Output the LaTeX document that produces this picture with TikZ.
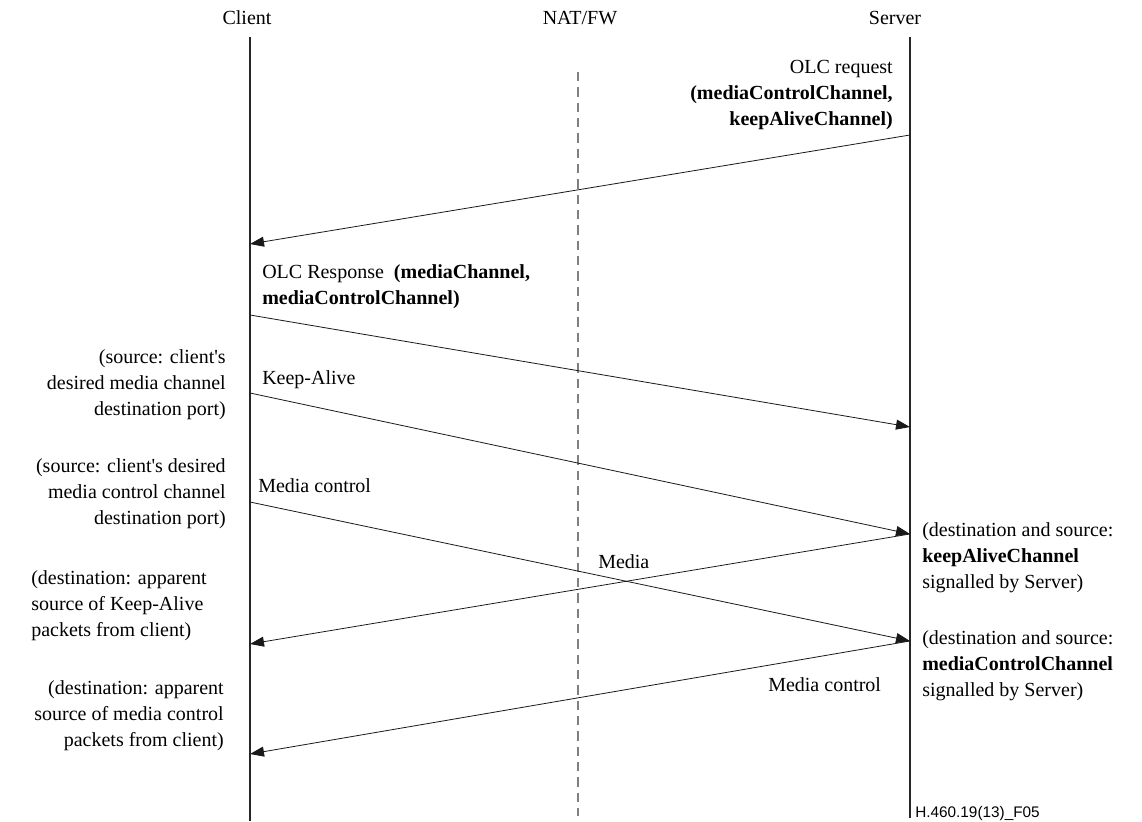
\documentclass[tikz,border=0pt]{standalone}
\usepackage{fontspec}
\setmainfont{Liberation Serif}[Ligatures=TeXOff]
\newfontfamily\figsans{Liberation Sans}
\usetikzlibrary{arrows.meta}
\begin{document}
\begin{tikzpicture}[x=0.75pt,y=-0.75pt,
  lbl/.style={inner sep=0pt, font=\fontsize{15}{19.5}\selectfont},
  life/.style={draw=black!85, line width=0.8pt},
  msg/.style={draw=black!90, line width=0.6pt, -{Triangle[length=10.5pt,width=7.5pt]}},
  natline/.style={draw=gray, line width=0.9pt, dash pattern=on 7pt off 4.5pt}]
\useasboundingbox (0,0) rectangle (1142,821);
% headers
\node[lbl, anchor=base] (client) at (247,24) {Client};
\node[lbl, anchor=base] (nat) at (580,24) {NAT/FW};
\node[lbl, anchor=base] (server) at (895,24) {Server};
% lifelines
\coordinate (ctop) at (250,37);
\coordinate (cbot) at (250,821);
\coordinate (stop) at (910,37);
\coordinate (sbot) at (910,818);
\coordinate (ntop) at (578,72);
\coordinate (nbot) at (578,816);
\draw[life] (ctop) -- (cbot);
\draw[life] (stop) -- (sbot);
\draw[natline] (ntop) -- (nbot);
% message end points
\coordinate (s1) at (910,135);
\coordinate (c1) at (250,244);
\coordinate (c2) at (250,315);
\coordinate (s2) at (910,427);
\coordinate (c3) at (250,393);
\coordinate (s3) at (910,534);
\coordinate (c4) at (250,502);
\coordinate (s4) at (910,641);
\coordinate (c5) at (250,644);
\coordinate (c6) at (250,754);
\draw[msg] (s1) -- (c1);
\draw[msg] (c2) -- (s2);
\draw[msg] (c3) -- (s3);
\draw[msg] (c4) -- (s4);
\draw[msg] (s3) -- (c5);
\draw[msg] (s4) -- (c6);
% message labels (base anchor = baseline of the last line)
\node[lbl, anchor=base east, align=right] (olcreq) at (893,125)
  {OLC request\\ \textbf{(mediaControlChannel,}\hspace*{4.5pt}\\ \textbf{keepAliveChannel)}};
\node[lbl, anchor=base west, align=left] (olcresp) at (262,304)
  {OLC Response\ \ \textbf{(mediaChannel,}\\ \textbf{mediaControlChannel)}};
\node[lbl, anchor=base west] (ka) at (262,384) {Keep-Alive};
\node[lbl, anchor=base west] (mc1) at (258,492) {Media control};
\node[lbl, anchor=base west] (media) at (598,568) {Media};
\node[lbl, anchor=base west] (mc2) at (768,691) {Media control};
% left notes
\node[lbl, anchor=base east, align=right] (n1) at (226,415)
  {(source: client's\\ desired media channel\\ destination port)};
\node[lbl, anchor=base east, align=right] (n2) at (226,524)
  {(source: client's desired\\ media control channel\\ destination port)};
\node[lbl, anchor=base west, align=left] (n3) at (31,636)
  {(destination: apparent\\ source of Keep-Alive\\ packets from client)};
\node[lbl, anchor=base east, align=right] (n4) at (224,746)
  {(destination: apparent\\ source of media control\\ packets from client)};
% right notes
\node[lbl, anchor=base west, align=left] (r1) at (922,588)
  {(destination and source:\\ \textbf{keepAliveChannel}\\ signalled by Server)};
\node[lbl, anchor=base west, align=left] (r2) at (922,696)
  {(destination and source:\\ \textbf{mediaControlChannel}\\ signalled by Server)};
% footer
\node[inner sep=0pt, anchor=base west, font=\figsans\fontsize{11.5}{13}\selectfont] (fig) at (915,817) {H.460.19(13)\_F05};
\end{tikzpicture}
\end{document}
